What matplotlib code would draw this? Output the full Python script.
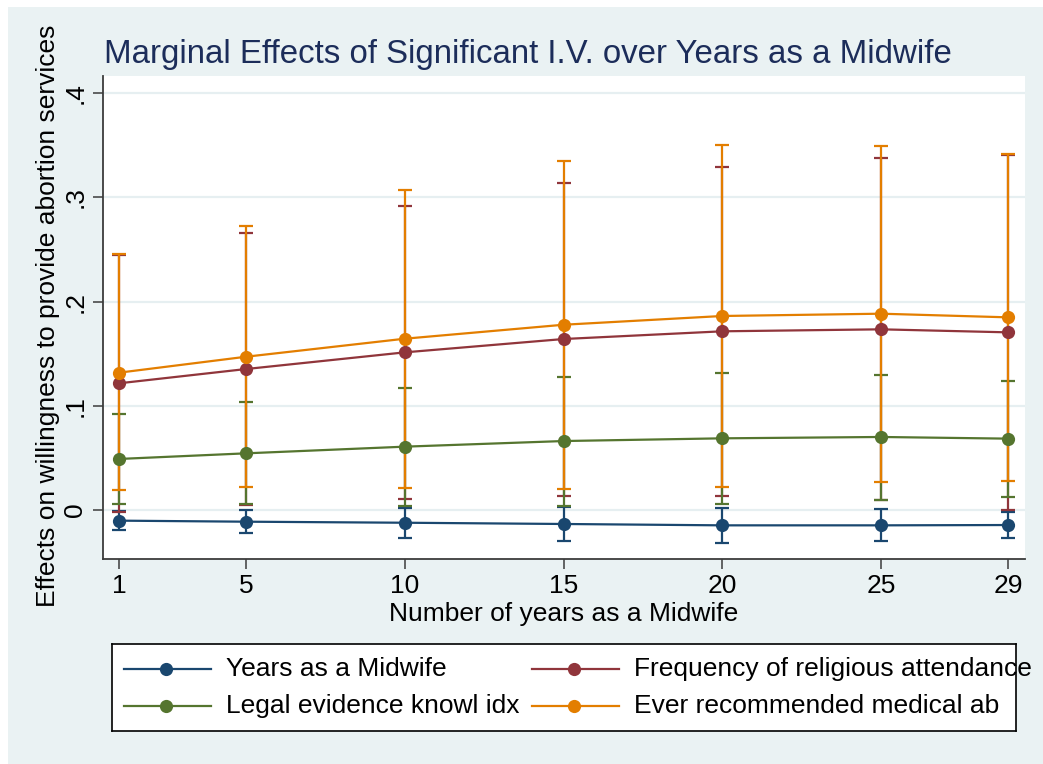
import matplotlib
matplotlib.use("Agg")
import matplotlib.pyplot as plt
from matplotlib.lines import Line2D
from matplotlib.patches import Rectangle

plt.rcParams['font.family'] = ['Liberation Sans', 'DejaVu Sans']

# Marginal effects (dy/dx) with 95% confidence limits at each experience level
years = [1, 5, 10, 15, 20, 25, 29]
year_ticks = [1, 5, 10, 15, 20, 25, 29]
y_ticks = [0, 0.1, 0.2, 0.3, 0.4]
y_tick_labels = ["0", ".1", ".2", ".3", ".4"]

series_names = [
    "Years as a Midwife",
    "Frequency of religious attendance",
    "Legal evidence knowl idx",
    "Ever recommended medical ab",
]

midwife_est = [-0.0102, -0.0112, -0.0122, -0.0134, -0.0147, -0.0147, -0.0144]
midwife_lo = [-0.0192, -0.0224, -0.0269, -0.0294, -0.0314, -0.0298, -0.0272]
midwife_hi = [-0.0012, 0.0000, 0.0016, 0.0026, 0.0019, 0.0010, -0.0019]

relig_est = [0.1216, 0.1353, 0.1513, 0.1641, 0.1715, 0.1734, 0.1705]
relig_lo = [-0.0022, 0.0050, 0.0109, 0.0134, 0.0131, 0.0093, 0.0000]
relig_hi = [0.2444, 0.2655, 0.2917, 0.3135, 0.3292, 0.3375, 0.3408]

legal_est = [0.0490, 0.0544, 0.0608, 0.0662, 0.0688, 0.0701, 0.0685]
legal_lo = [0.0055, 0.0055, 0.0042, 0.0042, 0.0058, 0.0093, 0.0128]
legal_hi = [0.0918, 0.1036, 0.1174, 0.1276, 0.1318, 0.1293, 0.1241]

medab_est = [0.1318, 0.1471, 0.1644, 0.1778, 0.1862, 0.1884, 0.1849]
medab_lo = [0.0195, 0.0218, 0.0214, 0.0205, 0.0221, 0.0265, 0.0282]
medab_hi = [0.2454, 0.2726, 0.3071, 0.3350, 0.3500, 0.3496, 0.3413]

colors = ["#1A476F", "#90353B", "#55752F", "#E37E00"]
ests = [midwife_est, relig_est, legal_est, medab_est]
los = [midwife_lo, relig_lo, legal_lo, medab_lo]
his = [midwife_hi, relig_hi, legal_hi, medab_hi]

W, H = 1043, 764
BG = "#EAF2F3"
FS = 19
fig = plt.figure(figsize=(W / 100, H / 100), dpi=100, facecolor="white")

def fx(px):
    return px / W

def fy(py):
    return 1 - py / H

# graph region background
fig.patches.append(Rectangle((fx(8), 0), 1 - fx(8), fy(7), transform=fig.transFigure,
                             facecolor=BG, edgecolor="none", zorder=-10))

ax = fig.add_axes([fx(103), fy(559), fx(1025) - fx(103), fy(76) - fy(559)])
ax.set_zorder(1)
ax.set_facecolor("white")
ax.set_xlim(0.496, 29.535)
ax.set_ylim(-0.0470, 0.4165)

for s in ["top", "right"]:
    ax.spines[s].set_visible(False)
for s in ["left", "bottom"]:
    ax.spines[s].set_color("#3C3C3C")
    ax.spines[s].set_linewidth(1.3)

ax.set_yticks(y_ticks)
ax.set_yticklabels(y_tick_labels, rotation=90, va="center")
ax.set_xticks(year_ticks)
ax.set_xticklabels([str(v) for v in year_ticks])
ax.tick_params(axis="y", length=7.2, width=1.1, color="#3C3C3C", pad=4, labelsize=FS)
ax.tick_params(axis="x", length=7.2, width=1.1, color="#3C3C3C", pad=3.5, labelsize=FS)
ax.grid(axis="y", color="#E6EFF1", linewidth=1.6, zorder=0)
ax.set_axisbelow(True)

# confidence interval caps first, then connected estimates on top
for est, lo, hi, c in zip(ests, los, his, colors):
    yerr = [[e - l for e, l in zip(est, lo)], [h - e for e, h in zip(est, hi)]]
    ax.errorbar(years, est, yerr=yerr, fmt="none", ecolor=c, elinewidth=1.6,
                capsize=4.8, capthick=1.6, zorder=2)
for est, c in zip(ests, colors):
    ax.plot(years, est, color=c, linewidth=1.6, marker="o", markersize=9.5,
            markeredgewidth=0, zorder=3)

fig.text(fx(104), fy(63), "Marginal Effects of Significant I.V. over Years as a Midwife",
         fontsize=23.8, color="#1C2D5A", ha="left", va="baseline")
fig.text(fx(564), fy(614), "Number of years as a Midwife", fontsize=FS,
         ha="center", va="center")
fig.text(fx(48), fy(316), "Effects on willingness to provide abortion services",
         fontsize=FS, rotation=90, ha="center", va="center", zorder=3)

# legend box
lax = fig.add_axes([fx(112), fy(731), fx(1016) - fx(112), fy(644) - fy(731)])
lax.set_xlim(112, 1016)
lax.set_ylim(731, 644)
lax.set_xticks([])
lax.set_yticks([])
lax.set_facecolor("white")
for s in lax.spines.values():
    s.set_color("black")
    s.set_linewidth(1.2)
lax.set_zorder(5)

entry_cols = [(124, 211, 166, 226), (532, 619, 574, 634)]
entry_rows = [669, 706]
order = [(0, 0), (0, 1), (1, 0), (1, 1)]
for (r, cidx), name, c in zip(order, series_names, colors):
    x0, x1, xm, xt = entry_cols[cidx]
    yy = entry_rows[r]
    lax.add_line(Line2D([x0, x1], [yy, yy], color=c, linewidth=1.6, clip_on=False))
    lax.plot([xm], [yy], marker="o", markersize=9.5, color=c, markeredgewidth=0,
             clip_on=False)
    lax.text(xt, yy, name, fontsize=FS, ha="left", va="center", clip_on=False)

fig.savefig("out.png", dpi=100, facecolor="white")
